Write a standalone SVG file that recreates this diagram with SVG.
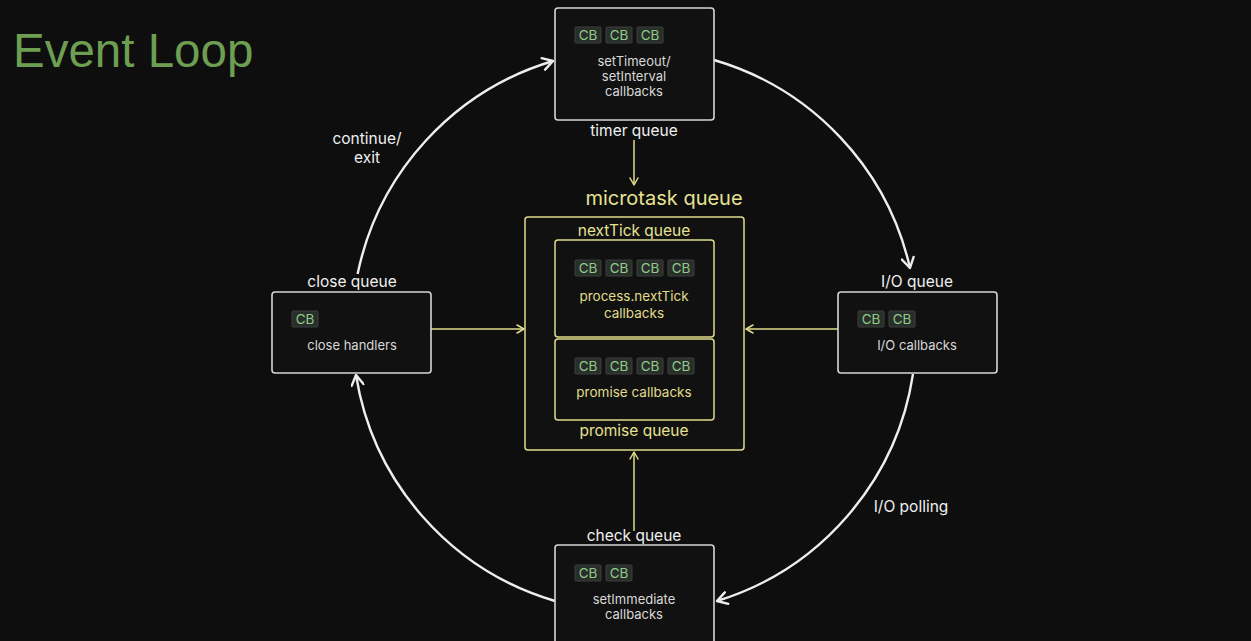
<svg xmlns="http://www.w3.org/2000/svg" width="1251" height="641" viewBox="0 0 1251 641">
<defs>
<style>
.bg{fill:#0e0e0e}
.box{fill:#111111;stroke:#d6d6d6;stroke-width:1.6}
.ybox{fill:#111111;stroke:#e0dc8c;stroke-width:1.5}
.chip{fill:#2a2e2a;stroke:#3c403c;stroke-width:1}
.cb{font-family:Inter,"Liberation Sans",sans-serif;font-size:13.5px;fill:#8fcb89;text-anchor:middle}
.lbl{font-family:Inter,"Liberation Sans",sans-serif;font-size:13px;fill:#d8d8d8;text-anchor:middle}
.ylbl{font-family:Inter,"Liberation Sans",sans-serif;font-size:13.5px;fill:#e0dc8c;text-anchor:middle}
.q{font-family:Inter,"Liberation Sans",sans-serif;font-size:15.5px;fill:#f0f0f0;text-anchor:middle}
.yq{font-family:Inter,"Liberation Sans",sans-serif;font-size:15.5px;fill:#e6e292;text-anchor:middle}
.big{font-size:20px}
.arc{fill:none;stroke:#eeeeee;stroke-width:2.4;marker-end:url(#aw)}
.yl{fill:none;stroke:#e0dc8c;stroke-width:1.5;marker-end:url(#ay)}
</style>
<marker id="aw" viewBox="0 0 14 14" refX="12" refY="7" markerWidth="14" markerHeight="14" markerUnits="userSpaceOnUse" orient="auto">
<path d="M2,1 L12,7 L2,13" fill="none" stroke="#eeeeee" stroke-width="2.4" stroke-linecap="round" stroke-linejoin="round"/>
</marker>
<marker id="ay" viewBox="0 0 10 10" refX="9" refY="5" markerWidth="10" markerHeight="10" markerUnits="userSpaceOnUse" orient="auto">
<path d="M2,1 L9,5 L2,9" fill="none" stroke="#e0dc8c" stroke-width="1.5" stroke-linecap="round" stroke-linejoin="round"/>
</marker>
</defs>
<rect class="bg" x="0" y="0" width="1251" height="641"/>
<text x="13" y="67" font-family="'Liberation Sans',Arial,sans-serif" font-size="47.5" fill="#6e9e52">Event Loop</text>

<g id="connectors">
<path class="arc" d="M714,60 A282,282 0 0 1 910,268"/>
<path class="arc" d="M913,374 A282,282 0 0 1 717,601"/>
<path class="arc" d="M555,601 A282,282 0 0 1 356,375"/>
<path class="arc" d="M357.6,274 A282,282 0 0 1 553,61"/>
<path class="yl" d="M634,140 L634,185"/>
<path class="yl" d="M431,329 L524,329"/>
<path class="yl" d="M838,329 L746,329"/>
<path class="yl" d="M634,531 L634,452"/>
<text class="q" x="367" y="144">continue/</text>
<text class="q" x="367" y="163">exit</text>
<text class="q" x="911" y="512">I/O polling</text>
</g>

<g id="timer">
<rect class="box" x="555" y="8" width="159" height="112" rx="3"/>
<rect class="chip" x="575" y="27" width="26" height="16" rx="1"/><text class="cb" x="588" y="40">CB</text>
<rect class="chip" x="606" y="27" width="26" height="16" rx="1"/><text class="cb" x="619" y="40">CB</text>
<rect class="chip" x="637" y="27" width="26" height="16" rx="1"/><text class="cb" x="650" y="40">CB</text>
<text class="lbl" x="634" y="66">setTimeout/</text>
<text class="lbl" x="634" y="81">setInterval</text>
<text class="lbl" x="634" y="96">callbacks</text>
<text class="q" x="634" y="136">timer queue</text>
</g>

<g id="microtask">
<text class="yq big" x="664" y="205">microtask queue</text>
<rect class="ybox" x="525" y="217" width="219" height="233" rx="3"/>
<text class="yq" x="634" y="236">nextTick queue</text>
<text class="yq" x="634" y="436">promise queue</text>
</g>

<g id="nexttick">
<rect class="ybox" x="555" y="240" width="159" height="97" rx="3"/>
<rect class="chip" x="575" y="260" width="26" height="16" rx="1"/><text class="cb" x="588" y="273">CB</text>
<rect class="chip" x="606" y="260" width="26" height="16" rx="1"/><text class="cb" x="619" y="273">CB</text>
<rect class="chip" x="637" y="260" width="26" height="16" rx="1"/><text class="cb" x="650" y="273">CB</text>
<rect class="chip" x="668" y="260" width="26" height="16" rx="1"/><text class="cb" x="681" y="273">CB</text>
<text class="ylbl" x="634" y="301">process.nextTick</text>
<text class="ylbl" x="634" y="318">callbacks</text>
</g>

<g id="promise">
<rect class="ybox" x="555" y="339" width="159" height="81" rx="3"/>
<rect class="chip" x="575" y="358" width="26" height="16" rx="1"/><text class="cb" x="588" y="371">CB</text>
<rect class="chip" x="606" y="358" width="26" height="16" rx="1"/><text class="cb" x="619" y="371">CB</text>
<rect class="chip" x="637" y="358" width="26" height="16" rx="1"/><text class="cb" x="650" y="371">CB</text>
<rect class="chip" x="668" y="358" width="26" height="16" rx="1"/><text class="cb" x="681" y="371">CB</text>
<text class="ylbl" x="634" y="397">promise callbacks</text>
</g>

<g id="close">
<text class="q" x="352" y="287">close queue</text>
<rect class="box" x="272" y="292" width="159" height="81" rx="3"/>
<rect class="chip" x="292" y="311" width="26" height="16" rx="1"/><text class="cb" x="305" y="324">CB</text>
<text class="lbl" x="352" y="350">close handlers</text>
</g>

<g id="io">
<text class="q" x="917" y="287">I/O queue</text>
<rect class="box" x="838" y="292" width="159" height="81" rx="3"/>
<rect class="chip" x="858" y="311" width="26" height="16" rx="1"/><text class="cb" x="871" y="324">CB</text>
<rect class="chip" x="889" y="311" width="26" height="16" rx="1"/><text class="cb" x="902" y="324">CB</text>
<text class="lbl" x="917" y="350">I/O callbacks</text>
</g>

<g id="check">
<text class="q" x="634" y="541">check queue</text>
<rect class="box" x="555" y="545" width="159" height="105" rx="3"/>
<rect class="chip" x="575" y="565" width="26" height="16" rx="1"/><text class="cb" x="588" y="578">CB</text>
<rect class="chip" x="606" y="565" width="26" height="16" rx="1"/><text class="cb" x="619" y="578">CB</text>
<text class="lbl" x="634" y="604">setImmediate</text>
<text class="lbl" x="634" y="619">callbacks</text>
</g>
</svg>
